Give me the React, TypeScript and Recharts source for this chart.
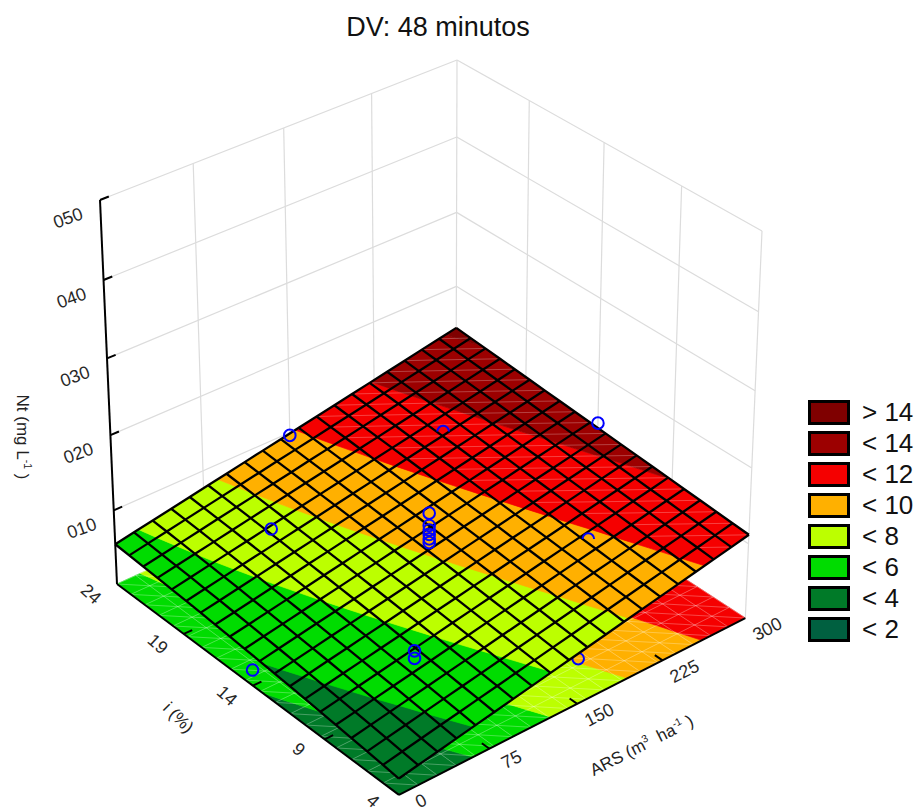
import React from "react";
import { ScatterChart, Scatter, XAxis, YAxis } from "recharts";

const arsTicks = [0, 75, 150, 225, 300];
const iTicks = [4, 9, 14, 19, 24];
const ntTicks = [10, 20, 30, 40, 50];
const ntLabels = ["010", "020", "030", "040", "050"];

const bandLevels = [-99, 2, 4, 6, 8, 10, 12, 14, 99];
const bandColors = ["#006040", "#007a28", "#00dc00", "#bcff00", "#ffb000", "#f50000", "#9c0000", "#7f0000"];
const legendLabels = ["> 14", "< 14", "< 12", "< 10", "< 8", "< 6", "< 4", "< 2"];

// rows: i from 4 to 24, columns: ARS from 0 to 300
const ntRows = [
  [2.15,2.63,3.10,3.58,4.06,4.53,5.01,5.48,5.96,6.44,6.91,7.39,7.87,8.34,8.82,9.29,9.77,10.25,10.72,11.20],
  [2.39,2.86,3.33,3.81,4.28,4.75,5.22,5.69,6.17,6.64,7.11,7.58,8.06,8.53,9.00,9.47,9.95,10.42,10.89,11.36],
  [2.62,3.09,3.56,4.03,4.50,4.96,5.43,5.90,6.37,6.84,7.31,7.78,8.25,8.71,9.18,9.65,10.12,10.59,11.06,11.53],
  [2.84,3.31,3.77,4.24,4.71,5.17,5.64,6.10,6.57,7.03,7.50,7.96,8.43,8.90,9.36,9.83,10.29,10.76,11.22,11.69],
  [3.06,3.52,3.99,4.45,4.91,5.37,5.84,6.30,6.76,7.23,7.69,8.15,8.61,9.08,9.54,10.00,10.46,10.93,11.39,11.85],
  [3.27,3.73,4.19,4.65,5.11,5.57,6.03,6.49,6.95,7.41,7.87,8.33,8.79,9.25,9.71,10.17,10.63,11.09,11.55,12.02],
  [3.47,3.93,4.39,4.85,5.30,5.76,6.22,6.68,7.14,7.60,8.05,8.51,8.97,9.43,9.89,10.35,10.80,11.26,11.72,12.18],
  [3.66,4.12,4.58,5.03,5.49,5.95,6.40,6.86,7.32,7.77,8.23,8.69,9.14,9.60,10.06,10.51,10.97,11.43,11.88,12.34],
  [3.85,4.31,4.76,5.22,5.67,6.13,6.58,7.04,7.49,7.95,8.41,8.86,9.32,9.77,10.23,10.68,11.14,11.59,12.05,12.50],
  [4.03,4.49,4.94,5.40,5.85,6.30,6.76,7.21,7.67,8.12,8.58,9.03,9.49,9.94,10.40,10.85,11.30,11.76,12.21,12.67],
  [4.20,4.66,5.11,5.57,6.02,6.47,6.93,7.38,7.84,8.29,8.74,9.20,9.65,10.11,10.56,11.02,11.47,11.92,12.38,12.83],
  [4.37,4.82,5.28,5.73,6.18,6.64,7.09,7.55,8.00,8.45,8.91,9.36,9.82,10.27,10.72,11.18,11.63,12.09,12.54,12.99],
  [4.53,4.98,5.43,5.89,6.34,6.80,7.25,7.71,8.16,8.61,9.07,9.52,9.98,10.43,10.89,11.34,11.80,12.25,12.70,13.16],
  [4.68,5.13,5.59,6.04,6.50,6.95,7.41,7.86,8.32,8.77,9.23,9.68,10.14,10.59,11.05,11.50,11.96,12.41,12.87,13.32],
  [4.82,5.27,5.73,6.19,6.64,7.10,7.55,8.01,8.47,8.92,9.38,9.84,10.29,10.75,11.20,11.66,12.12,12.57,13.03,13.49],
  [4.95,5.41,5.87,6.33,6.78,7.24,7.70,8.16,8.61,9.07,9.53,9.99,10.44,10.90,11.36,11.82,12.27,12.73,13.19,13.65],
  [5.08,5.54,6.00,6.46,6.92,7.38,7.84,8.30,8.76,9.22,9.68,10.13,10.59,11.05,11.51,11.97,12.43,12.89,13.35,13.81],
  [5.20,5.66,6.12,6.59,7.05,7.51,7.97,8.43,8.89,9.36,9.82,10.28,10.74,11.20,11.67,12.13,12.59,13.05,13.51,13.97],
  [5.31,5.78,6.24,6.71,7.17,7.64,8.10,8.56,9.03,9.49,9.96,10.42,10.89,11.35,11.82,12.28,12.74,13.21,13.67,14.14],
  [5.42,5.89,6.35,6.82,7.29,7.76,8.22,8.69,9.16,9.63,10.09,10.56,11.03,11.50,11.96,12.43,12.90,13.37,13.83,14.30],
];

// experimental points
const ptArs = [150, 225, 300, 75, 225, 150, 150, 150, 150, 150, 150, 75, 75, 0];
const ptI = [24, 19, 14, 19, 9, 14, 14, 14, 14, 14, 14, 9, 9, 14];
const ptNt = [9.6, 11.4, 13.4, 8.6, 9.7, 11.85, 10.2, 9.6, 9.0, 8.4, 7.9, 5.85, 4.85, 2.1];
const halfArcPts = [1, 4];
const underSurfaceArs = [150];
const underSurfaceI = [4];
const underSurfaceNt = [6.0];

// box corners on screen, used to build the perspective projection
const backTop = [457, 60];
const leftTop = [100, 200];
const rightTop = [762, 231];
const backBottom = [456, 430];
const nearBottom = [398, 793];
const leftBottom = [117, 584];

const det3 = (a: number[], b: number[], c: number[]) =>
  a[0] * (b[1] * c[2] - b[2] * c[1]) - b[0] * (a[1] * c[2] - a[2] * c[1]) + c[0] * (a[1] * b[2] - a[2] * b[1]);

const hom = (p: number[]) => [p[0], p[1], 1];
const Pa = hom(leftTop);
const Pb = hom(rightTop);
const Pc = hom(backBottom);
const Po = hom(backTop);
const Pn = hom(nearBottom);
const Pl = hom(leftBottom).map((v) => -v);

const D = det3(Pa, Pc, Pl);
const alpha = det3(Po, Pc, Pl) / D;
const gamma = det3(Pa, Po, Pl) / D;

// beta and lambda from the near corner, least squares on the two unknowns
const rest = [0, 1, 2].map((n) => 2 * Po[n] - alpha * Pa[n] - gamma * Pc[n]);
const dot = (u: number[], v: number[]) => u[0] * v[0] + u[1] * v[1] + u[2] * v[2];
const bb = dot(Pb, Pb);
const nn = dot(Pn, Pn);
const bn = dot(Pb, Pn);
const br = dot(Pb, rest);
const nr = dot(Pn, rest);
const dd = bb * nn - bn * bn;
const beta = (br * nn - nr * bn) / dd;

const A = Pa.map((v, n) => alpha * v - Po[n]);
const B = Pb.map((v, n) => beta * v - Po[n]);
const C = Pc.map((v, n) => gamma * v - Po[n]);

function project(ars: number, i: number, nt: number) {
  const a = 1 - ars / 300;
  const b = 1 - (i - 4) / 20;
  const c = 1 - nt / 50;
  const h = [0, 1, 2].map((n) => a * A[n] + b * B[n] + c * C[n] + Po[n]);
  return { x: h[0] / h[2], y: h[1] / h[2] };
}

type Shape = { pts: { x: number; y: number }[]; fill?: string; stroke?: string; width?: number };

// one Scatter carries all the vertices; its line renderer gets them back scaled
function makeLayer(shapes: Shape[]) {
  const data = shapes.flatMap((s) => s.pts);
  const line = (props: any) => {
    let at = 0;
    return (
      <g>
        {shapes.map((s, idx) => {
          const pts = props.points.slice(at, at + s.pts.length);
          at += s.pts.length;
          const d = pts.map((p: any, n: number) => `${n ? "L" : "M"}${p.x} ${p.y}`).join("") + (s.fill ? "Z" : "");
          return (
            <path key={idx} d={d} fill={s.fill ?? "none"} stroke={s.stroke ?? "none"} strokeWidth={s.width ?? 1} strokeLinejoin="round" strokeLinecap="butt" />
          );
        })}
      </g>
    );
  };
  return { data, line };
}

const N = ntRows.length - 1;
const arsAt = (j: number) => (300 * j) / N;
const iAt = (k: number) => 4 + (20 * k) / N;

type V = [number, number, number];

function clip(poly: V[], level: number, keepAbove: boolean): V[] {
  const out: V[] = [];
  const inside = (v: V) => (keepAbove ? v[2] >= level : v[2] <= level);
  poly.forEach((cur, idx) => {
    const next = poly[(idx + 1) % poly.length];
    if (inside(cur)) out.push(cur);
    if (inside(cur) !== inside(next)) {
      const t = (level - cur[2]) / (next[2] - cur[2]);
      out.push([cur[0] + t * (next[0] - cur[0]), cur[1] + t * (next[1] - cur[1]), level]);
    }
  });
  return out;
}

function bandShapes(onFloor: boolean): Shape[] {
  const shapes: Shape[] = [];
  bandColors.forEach((color, b) => {
    for (let k = 0; k < N; k++) {
      for (let j = 0; j < N; j++) {
        const cell: V[] = [
          [arsAt(j), iAt(k), ntRows[k][j]],
          [arsAt(j + 1), iAt(k), ntRows[k][j + 1]],
          [arsAt(j + 1), iAt(k + 1), ntRows[k + 1][j + 1]],
          [arsAt(j), iAt(k + 1), ntRows[k + 1][j]],
        ];
        const part = clip(clip(cell, bandLevels[b], true), bandLevels[b + 1], false);
        if (part.length < 3) continue;
        shapes.push({
          pts: part.map((v) => project(v[0], v[1], onFloor ? 0 : v[2])),
          fill: color,
          stroke: color,
          width: 0.7,
        });
      }
    }
  });
  return shapes;
}

function wallShapes(): Shape[] {
  const st = { stroke: "#dcdcdc", width: 1.2 };
  const out: Shape[] = [];
  [0, ...ntTicks].forEach((z) => {
    out.push({ pts: [project(0, 24, z), project(300, 24, z)], ...st });
    out.push({ pts: [project(300, 24, z), project(300, 4, z)], ...st });
  });
  arsTicks.slice(1).forEach((a) => out.push({ pts: [project(a, 24, 0), project(a, 24, 50)], ...st }));
  iTicks.slice(0, 4).forEach((i) => out.push({ pts: [project(300, i, 0), project(300, i, 50)], ...st }));
  return out;
}

function floorFaint(): Shape[] {
  const st = { stroke: "rgba(255,255,255,0.28)", width: 1 };
  const out: Shape[] = [];
  for (let n = 0; n <= N; n++) {
    out.push({ pts: [project(arsAt(n), 4, 0), project(arsAt(n), 24, 0)], ...st });
    out.push({ pts: [project(0, iAt(n), 0), project(300, iAt(n), 0)], ...st });
  }
  for (let k = 0; k < N; k++) {
    for (let j = 0; j < N; j++) {
      out.push({ pts: [project(arsAt(j), iAt(k + 1), 0), project(arsAt(j + 1), iAt(k), 0)], ...st });
    }
  }
  return out;
}

function surfaceFaint(): Shape[] {
  const st = { stroke: "rgba(255,255,255,0.25)", width: 1 };
  const out: Shape[] = [];
  for (let k = 0; k < N; k++) {
    for (let j = 0; j < N; j++) {
      if (ntRows[k + 1][j] < 10.2 || ntRows[k][j + 1] < 10.2) continue;
      out.push({ pts: [project(arsAt(j), iAt(k + 1), ntRows[k + 1][j]), project(arsAt(j + 1), iAt(k), ntRows[k][j + 1])], ...st });
    }
  }
  return out;
}

function meshShapes(): Shape[] {
  const st = { stroke: "#000", width: 2.3 };
  const out: Shape[] = [];
  for (let n = 0; n <= N; n++) {
    out.push({ pts: ntRows[n].map((z, j) => project(arsAt(j), iAt(n), z)), ...st });
    out.push({ pts: ntRows.map((row, k) => project(arsAt(n), iAt(k), row[n])), ...st });
  }
  return out;
}

function axisShapes(): Shape[] {
  const st = { stroke: "#000", width: 2 };
  const out: Shape[] = [
    { pts: [project(0, 24, 0), project(0, 24, 50)], ...st },
    { pts: [project(0, 24, 0), project(0, 4, 0)], ...st },
    { pts: [project(0, 4, 0), project(300, 4, 0)], ...st },
  ];
  ntTicks.forEach((z) => out.push({ pts: [project(0, 24, z), project(7, 24, z)], ...st }));
  iTicks.slice(1, 4).forEach((i) => out.push({ pts: [project(0, i, 0), project(7, i, 0)], ...st }));
  arsTicks.slice(1, 4).forEach((a) => out.push({ pts: [project(a, 4, 0), project(a, 4.5, 0)], ...st }));
  return out;
}

const floorLayer = makeLayer(bandShapes(true));
const floorFaintLayer = makeLayer(floorFaint());
const wallLayer = makeLayer(wallShapes());
const surfaceLayer = makeLayer(bandShapes(false));
const surfaceFaintLayer = makeLayer(surfaceFaint());
const meshLayer = makeLayer(meshShapes());
const axisLayer = makeLayer(axisShapes());

const font = "'Liberation Sans', Arial, sans-serif";
const noDot = () => <g />;

const labelShape = (props: any) => {
  const { cx, cy, payload } = props;
  return (
    <text x={cx + payload.dx} y={cy + payload.dy} transform={`rotate(${payload.angle} ${cx + payload.dx} ${cy + payload.dy})`} textAnchor="middle" dominantBaseline="central" fontFamily={font} fontSize={18} fill="#000" opacity={0.85}>
      {payload.label}
    </text>
  );
};

const tickLabelData = [
  ...ntTicks.map((z, n) => ({ ...project(0, 24, z), label: ntLabels[n], dx: -32, dy: 18, angle: -20 })),
  ...iTicks.map((i) => ({ ...project(0, i, 0), label: String(i), dx: -26, dy: i === 4 ? 6 : 10, angle: 42 })),
  ...arsTicks.map((a) => ({ ...project(a, 4, 0), label: String(a), dx: 22, dy: a === 0 ? 6 : 11, angle: -27 })),
];

const circle = (props: any) => <circle cx={props.cx} cy={props.cy} r={5.8} fill="none" stroke="#0000ff" strokeWidth={2} />;

const pointShape = (props: any) => {
  if (!props.payload.half) return circle(props);
  const { cx, cy } = props;
  const r = 5.8;
  return <path d={`M${cx - r} ${cy + 1.5}A${r} ${r} 0 1 1 ${cx + r} ${cy + 1.5}`} fill="none" stroke="#0000ff" strokeWidth={2} />;
};

const pointData = ptArs.map((a, n) => ({ ...project(a, ptI[n], ptNt[n]), half: halfArcPts.includes(n) }));
const underData = underSurfaceArs.map((a, n) => project(a, underSurfaceI[n], underSurfaceNt[n]));

const axisTitle = { position: "absolute" as const, fontFamily: font, fontSize: 17, color: "#222", whiteSpace: "nowrap" as const, transformOrigin: "center" };
const sup = { fontSize: 10.5, verticalAlign: "super" as const, lineHeight: 0 };

export default function App() {
  return (
    <div style={{ position: "absolute", left: 0, top: 0, width: 916, height: 812, background: "#fff", overflow: "hidden" }}>
      <ScatterChart width={916} height={812} margin={{ top: 0, right: 0, bottom: 0, left: 0 }}>
        <XAxis type="number" dataKey="x" domain={[0, 916]} hide />
        <YAxis type="number" dataKey="y" domain={[0, 812]} reversed hide />
        <Scatter data={wallLayer.data} line={wallLayer.line} shape={noDot} isAnimationActive={false} />
        <Scatter data={floorLayer.data} line={floorLayer.line} shape={noDot} isAnimationActive={false} />
        <Scatter data={floorFaintLayer.data} line={floorFaintLayer.line} shape={noDot} isAnimationActive={false} />
        <Scatter data={underData} shape={circle} isAnimationActive={false} />
        <Scatter data={surfaceLayer.data} line={surfaceLayer.line} shape={noDot} isAnimationActive={false} />
        <Scatter data={surfaceFaintLayer.data} line={surfaceFaintLayer.line} shape={noDot} isAnimationActive={false} />
        <Scatter data={meshLayer.data} line={meshLayer.line} shape={noDot} isAnimationActive={false} />
        <Scatter data={axisLayer.data} line={axisLayer.line} shape={noDot} isAnimationActive={false} />
        <Scatter data={pointData} shape={pointShape} isAnimationActive={false} />
        <Scatter data={tickLabelData} shape={labelShape} isAnimationActive={false} />
      </ScatterChart>

      <div style={{ position: "absolute", left: 0, width: 876, top: 12, textAlign: "center", fontFamily: font, fontSize: 27, color: "#111" }}>DV: 48 minutos</div>

      <div style={{ ...axisTitle, left: 642, top: 746, transform: "translate(-50%,-50%) rotate(-27deg)" }}>
        ARS (m<span style={sup}>3</span>&nbsp; ha<span style={sup}>-1</span>&nbsp;)
      </div>
      <div style={{ ...axisTitle, left: 178, top: 718, transform: "translate(-50%,-50%) rotate(45deg)" }}>i (%)</div>
      <div style={{ ...axisTitle, left: 22, top: 437, transform: "translate(-50%,-50%) rotate(90deg)" }}>
        Nt (mg L<span style={sup}>-1</span>&nbsp;)
      </div>

      {legendLabels.map((label, n) => (
        <div key={label} style={{ position: "absolute", left: 808, top: 400 + n * 31, width: 108, height: 25 }}>
          <div style={{ position: "absolute", left: 0, top: 0, width: 42, height: 25, boxSizing: "border-box", border: "3px solid #000", background: bandColors[bandColors.length - 1 - n] }} />
          <div style={{ position: "absolute", left: 54, top: -2, fontFamily: font, fontSize: 26, lineHeight: "29px", color: "#111", whiteSpace: "nowrap" }}>{label}</div>
        </div>
      ))}
    </div>
  );
}
